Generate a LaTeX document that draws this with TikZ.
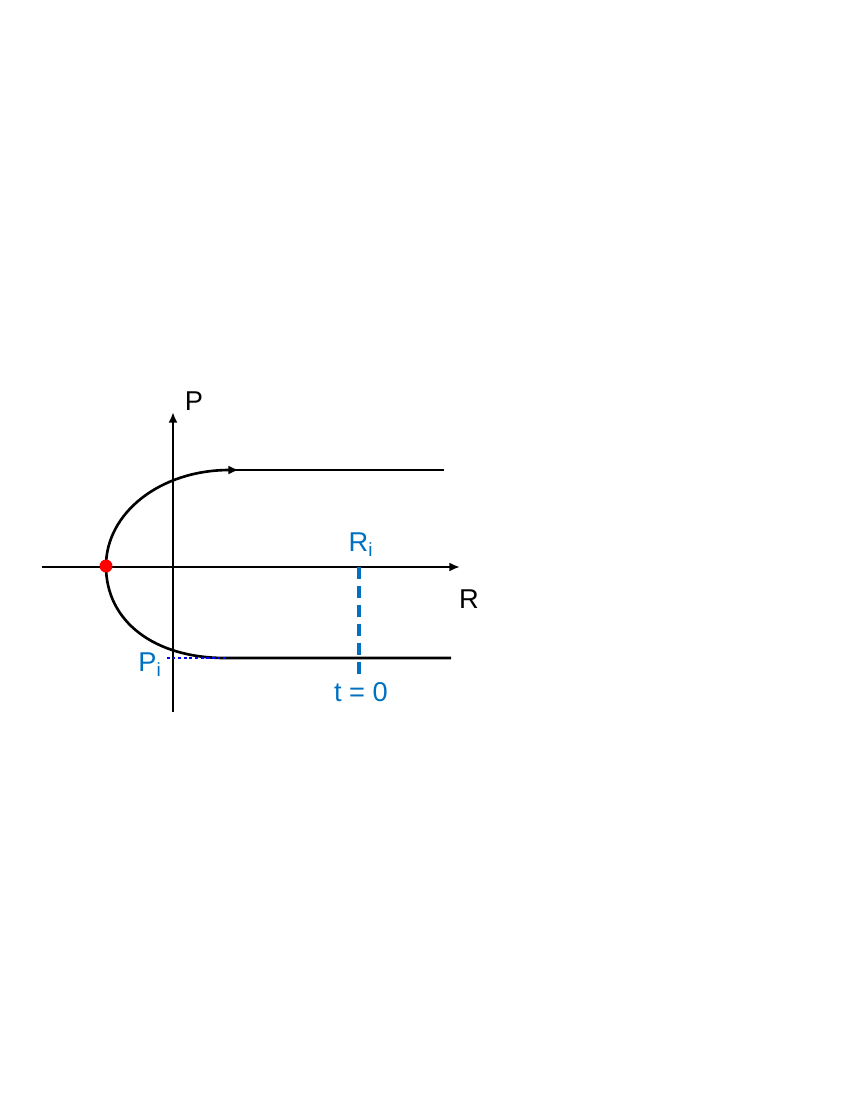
\documentclass[tikz,border=0pt]{standalone}
\usepackage{fontspec}
\setmainfont{Liberation Sans}
\usetikzlibrary{arrows.meta}
\definecolor{labelblue}{RGB}{0,112,192}
\tikzset{
  axis/.style={line width=1.5pt, -{Latex[length=6pt,width=5pt]}},
  orbit/.style={line width=1.5pt},
  lbl/.style={font=\fontsize{15.5}{18}\selectfont, inner sep=0pt},
  bluelbl/.style={lbl, text=labelblue}
}
\begin{document}
\begin{tikzpicture}[x=0.02cm, y=-0.02cm]
			%%%%% START %%%%%
			\useasboundingbox (0,0) rectangle (850,1100);
			
			\coordinate (origin) at (173,567);
			\coordinate (pbot) at (173,712);
			\coordinate (ptop) at (173,412);
			\coordinate (rleft) at (42,567);
			\coordinate (rright) at (460,567);
			\coordinate (turn) at (106,566);
			\coordinate (uppend) at (233,470);
			\coordinate (upptip) at (239,470);
			\coordinate (uppfar) at (444,470);
			\coordinate (lowend) at (225,658);
			\coordinate (lowfar) at (451,658);
			\coordinate (ritop) at (359,567);
			\coordinate (ribot) at (359,680);
			\coordinate (pileft) at (167,658);
			
			% axes
			\draw[axis] (pbot) -- (ptop);
			\draw[axis] (rleft) -- (rright);
			\node[lbl] (plabel) at (194,401) {P};
			\node[lbl] (rlabel) at (469,599) {R};
			
			% trajectory
			\draw[orbit, -{Latex[length=6pt,width=5pt]}] (turn) .. controls (106,513) and (160,470) .. (upptip);
			\draw[orbit] (uppend) -- (uppfar);
			\draw[orbit] (turn) .. controls (106,622) and (155,658) .. (lowend) -- (lowfar);
			
			% initial values
			\draw[labelblue, line width=2.2pt, dash pattern=on 6.8pt off 4pt] (ritop) -- (ribot);
			\draw[blue, line width=1.1pt, dash pattern=on 1.6pt off 1.6pt] (pileft) -- (lowend);
			\node[bluelbl] (rilabel) at (361,545) {R\textsubscript{i}};
			\node[bluelbl] (pilabel) at (150,665) {P\textsubscript{i}};
			\node[bluelbl] (tlabel) at (361,692) {t = 0};
			
			\fill[red] (turn) circle (6.5);
			%%%%% END %%%%%
\end{tikzpicture}
\end{document}
